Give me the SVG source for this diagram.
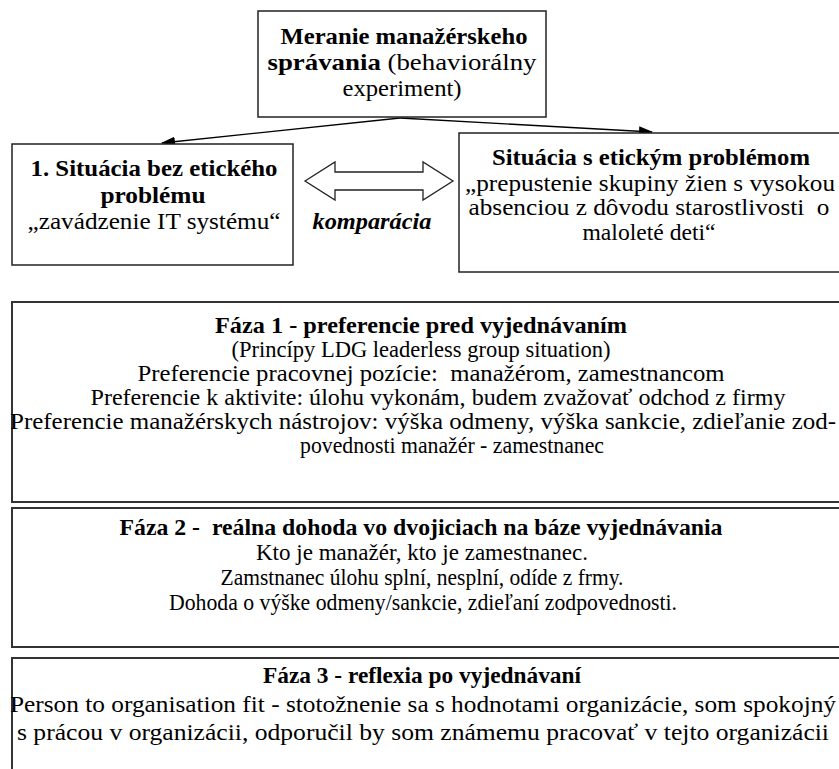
<svg xmlns="http://www.w3.org/2000/svg" width="839" height="769" viewBox="0 0 839 769">
<defs>
<style>
text{font-family:'Liberation Serif','Times New Roman',Times,'DejaVu Serif',serif;font-size:23px;fill:#000;text-anchor:middle}
.b{font-weight:bold}
.box{fill:#fff;stroke:#222;stroke-width:1.5}
.phase{fill:#fff;stroke:#333;stroke-width:2}
.conn{stroke:#000;stroke-width:1.3;fill:none}
</style>
<marker id="ah" markerWidth="14" markerHeight="10" refX="13" refY="5" orient="auto" markerUnits="userSpaceOnUse">
<path d="M0,0 L14,5 L0,10 Z" fill="#000"/>
</marker>
</defs>
<rect width="839" height="769" fill="#fff"/>
<g id="connectors">
<line class="conn" x1="400" y1="118" x2="162" y2="143" marker-end="url(#ah)"/>
<line class="conn" x1="400" y1="118" x2="652" y2="132" marker-end="url(#ah)"/>
</g>
<g id="top">
<rect class="box" x="258" y="11" width="288" height="106"/>
<text x="404" y="44" class="b" textLength="247" lengthAdjust="spacingAndGlyphs">Meranie manažérskeho</text>
<text x="402" y="70" textLength="269" lengthAdjust="spacingAndGlyphs"><tspan class="b">správania</tspan> (behaviorálny</text>
<text x="402" y="96" textLength="119" lengthAdjust="spacingAndGlyphs">experiment)</text>
</g>
<g id="left">
<rect class="box" x="12" y="144" width="281" height="121"/>
<text x="154" y="176" class="b" textLength="247" lengthAdjust="spacingAndGlyphs">1. Situácia bez etického</text>
<text x="153" y="203" class="b" textLength="105" lengthAdjust="spacingAndGlyphs">problému</text>
<text x="154" y="229" textLength="253" lengthAdjust="spacingAndGlyphs">„zavádzenie IT systému“</text>
</g>
<g id="right">
<rect class="box" x="459" y="133" width="400" height="139"/>
<text x="651" y="165" class="b" textLength="318" lengthAdjust="spacingAndGlyphs">Situácia s etickým problémom</text>
<text x="650" y="191" textLength="370" lengthAdjust="spacingAndGlyphs">„prepustenie skupiny žien s vysokou</text>
<text x="649" y="215" xml:space="preserve" textLength="361" lengthAdjust="spacingAndGlyphs">absenciou z dôvodu starostlivosti  o</text>
<text x="649" y="240" textLength="133" lengthAdjust="spacingAndGlyphs">maloleté deti“</text>
</g>
<g id="compare">
<polygon points="305,181 335,162 335,172 423,172 423,162 453,181 423,200 423,190 335,190 335,200" fill="#fff" stroke="#222" stroke-width="1.3"/>
<text x="372" y="229" class="b" font-style="italic" textLength="119" lengthAdjust="spacingAndGlyphs">komparácia</text>
</g>
<g id="phase1">
<rect class="phase" x="12" y="302" width="840" height="200"/>
<text x="421" y="333" class="b" textLength="412" lengthAdjust="spacingAndGlyphs">Fáza 1 - preferencie pred vyjednávaním</text>
<text x="421" y="357" textLength="379" lengthAdjust="spacingAndGlyphs">(Princípy LDG leaderless group situation)</text>
<text x="431" y="381" xml:space="preserve" textLength="587" lengthAdjust="spacingAndGlyphs">Preferencie pracovnej pozície:  manažérom, zamestnancom</text>
<text x="438" y="405" textLength="695" lengthAdjust="spacingAndGlyphs">Preferencie k aktivite: úlohu vykonám, budem zvažovať odchod z firmy</text>
<text x="423" y="429" textLength="826" lengthAdjust="spacingAndGlyphs">Preferencie manažérskych nástrojov: výška odmeny, výška sankcie, zdieľanie zod-</text>
<text x="452" y="453" textLength="304" lengthAdjust="spacingAndGlyphs">povednosti manažér - zamestnanec</text>
</g>
<g id="phase2">
<rect class="phase" x="12" y="508" width="840" height="139"/>
<text x="421" y="535" class="b" xml:space="preserve" textLength="603" lengthAdjust="spacingAndGlyphs">Fáza 2 -  reálna dohoda vo dvojiciach na báze vyjednávania</text>
<text x="422" y="560" textLength="332" lengthAdjust="spacingAndGlyphs">Kto je manažér, kto je zamestnanec.</text>
<text x="422" y="585" textLength="403" lengthAdjust="spacingAndGlyphs">Zamstnanec úlohu splní, nesplní, odíde z frmy.</text>
<text x="423" y="610" textLength="508" lengthAdjust="spacingAndGlyphs">Dohoda o výške odmeny/sankcie, zdieľaní zodpovednosti.</text>
</g>
<g id="phase3">
<rect class="phase" x="12" y="658" width="840" height="130"/>
<text x="422" y="683" class="b" textLength="318" lengthAdjust="spacingAndGlyphs">Fáza 3 - reflexia po vyjednávaní</text>
<text x="423" y="712" textLength="826" lengthAdjust="spacingAndGlyphs">Person to organisation fit - stotožnenie sa s hodnotami organizácie, som spokojný</text>
<text x="423" y="740" textLength="812" lengthAdjust="spacingAndGlyphs">s prácou v organizácii, odporučil by som známemu pracovať v tejto organizácii</text>
</g>
</svg>
